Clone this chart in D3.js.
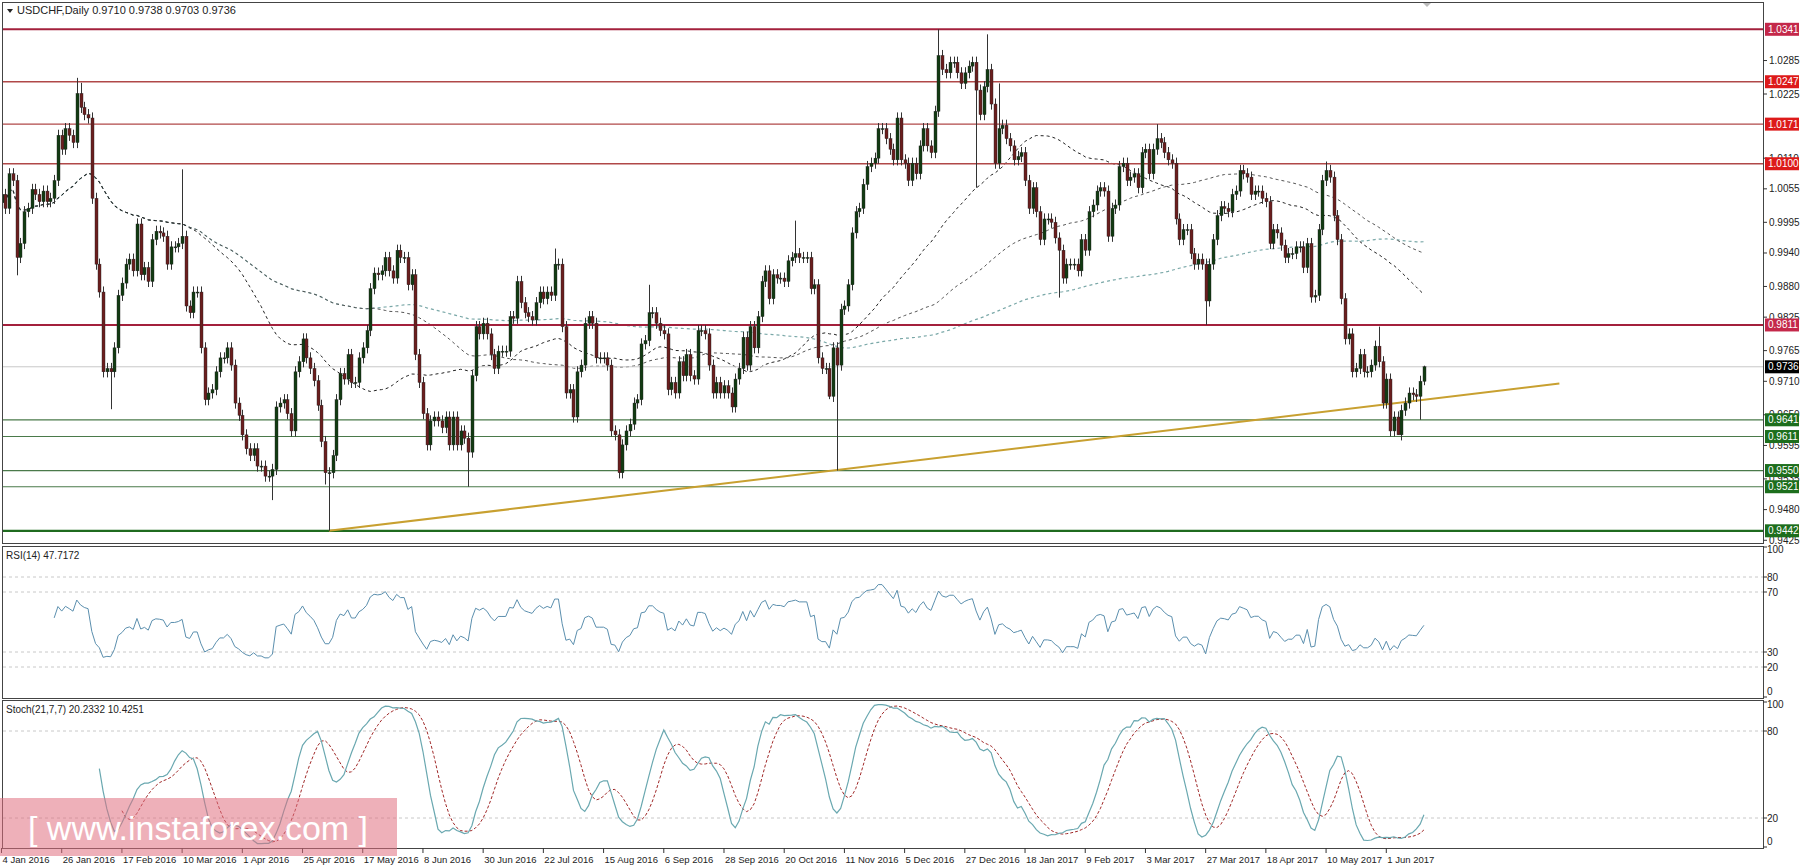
<!DOCTYPE html>
<html>
<head>
<meta charset="utf-8">
<script src="https://cdn.jsdelivr.net/npm/d3@7"></script>
<style>
  body { margin: 0; background: #fff; }
  svg { display: block; font-family: "Liberation Sans", Arial, sans-serif; }
</style>
</head>
<body>
<svg id="chart" width="1800" height="868"></svg>
<script>
// daily closes USDCHF, 4 Jan 2016 .. Jun 2017
const closes = [
1.0045,1.0020,1.0082,1.0070,0.9932,0.9957,1.0014,1.0020,1.0054,1.0045,
1.0032,1.0051,1.0032,1.0038,1.0070,1.0151,1.0126,1.0163,1.0151,1.0138,
1.0226,1.0201,1.0188,1.0182,1.0038,0.9920,0.9870,0.9727,0.9733,0.9727,
0.9770,0.9864,0.9886,0.9920,0.9929,0.9908,0.9992,0.9901,0.9914,0.9889,
0.9964,0.9979,0.9976,0.9970,0.9920,0.9951,0.9951,0.9957,0.9970,0.9845,
0.9833,0.9870,0.9870,0.9770,0.9677,0.9689,0.9695,0.9727,0.9752,0.9752,
0.9770,0.9739,0.9671,0.9649,0.9614,0.9589,0.9577,0.9589,0.9558,0.9558,
0.9540,0.9540,0.9552,0.9664,0.9671,0.9677,0.9652,0.9621,0.9727,0.9745,
0.9786,0.9752,0.9733,0.9711,0.9667,0.9602,0.9546,0.9546,0.9577,0.9677,
0.9724,0.9714,0.9758,0.9708,0.9708,0.9752,0.9770,0.9801,0.9876,0.9904,
0.9901,0.9908,0.9932,0.9908,0.9895,0.9945,0.9932,0.9932,0.9883,0.9901,
0.9758,0.9708,0.9652,0.9596,0.9639,0.9646,0.9639,0.9627,0.9646,0.9596,
0.9646,0.9596,0.9621,0.9608,0.9583,0.9720,0.9808,0.9795,0.9814,0.9795,
0.9758,0.9733,0.9764,0.9764,0.9764,0.9826,0.9823,0.9889,0.9851,0.9833,
0.9826,0.9820,0.9851,0.9870,0.9858,0.9870,0.9864,0.9920,0.9920,0.9808,
0.9689,0.9695,0.9646,0.9727,0.9739,0.9814,0.9826,0.9814,0.9752,0.9752,
0.9752,0.9739,0.9621,0.9614,0.9546,0.9596,0.9621,0.9633,0.9671,0.9677,
0.9777,0.9783,0.9833,0.9833,0.9814,0.9801,0.9795,0.9695,0.9708,0.9689,
0.9745,0.9720,0.9758,0.9720,0.9714,0.9801,0.9801,0.9795,0.9739,0.9689,
0.9708,0.9689,0.9702,0.9689,0.9664,0.9714,0.9733,0.9789,0.9739,0.9808,
0.9770,0.9826,0.9889,0.9908,0.9858,0.9901,0.9895,0.9895,0.9889,0.9926,
0.9932,0.9939,0.9932,0.9932,0.9932,0.9876,0.9883,0.9752,0.9733,0.9733,
0.9683,0.9770,0.9739,0.9839,0.9845,0.9883,0.9976,1.0014,1.0020,1.0063,
1.0095,1.0101,1.0110,1.0163,1.0163,1.0145,1.0126,1.0107,1.0182,1.0107,
1.0101,1.0070,1.0101,1.0082,1.0132,1.0163,1.0132,1.0120,1.0194,1.0294,
1.0269,1.0263,1.0282,1.0282,1.0263,1.0244,1.0263,1.0275,1.0282,1.0232,
1.0188,1.0238,1.0269,1.0207,1.0101,1.0163,1.0169,1.0145,1.0132,1.0107,
1.0113,1.0120,1.0070,1.0020,1.0057,1.0014,0.9964,1.0001,1.0001,0.9995,
0.9967,0.9945,0.9895,0.9920,0.9920,0.9920,0.9908,0.9964,0.9945,1.0014,
1.0026,1.0051,1.0057,1.0051,0.9970,1.0020,1.0026,1.0095,1.0101,1.0070,
1.0076,1.0082,1.0057,1.0120,1.0126,1.0082,1.0126,1.0145,1.0138,1.0120,
1.0107,1.0101,1.0001,0.9964,0.9982,0.9982,0.9939,0.9920,0.9929,0.9920,
0.9854,0.9920,0.9964,1.0007,1.0023,1.0020,1.0014,1.0045,1.0051,1.0088,
1.0082,1.0076,1.0045,1.0051,1.0051,1.0038,1.0032,0.9957,0.9982,0.9976,
0.9954,0.9932,0.9939,0.9939,0.9951,0.9951,0.9914,0.9957,0.9861,0.9864,
0.9982,1.0070,1.0088,1.0076,1.0007,0.9964,0.9858,0.9786,0.9795,0.9727,
0.9733,0.9758,0.9727,0.9727,0.9739,0.9773,0.9745,0.9671,0.9714,0.9621,
0.9646,0.9614,0.9658,0.9671,0.9689,0.9686,0.9683,0.9710,0.9736
];
// wick extremes that stand out on the picture: [bar, high, low]
const spikes = [
[4,null,0.9900],[20,1.0254,null],[21,1.0245,null],[29,null,0.9660],[48,1.0090,null],
[72,null,0.9497],[86,null,0.9525],[87,null,0.9442],[124,null,0.9521],[147,0.9948,null],
[164,null,0.9536],[172,0.9883,null],[211,0.9998,null],[220,null,0.9678],[222,null,0.9550],
[249,1.0341,null],[259,null,1.0057],[262,1.0332,null],[265,1.0244,null],[281,null,0.9860],
[307,1.0171,null],[320,null,0.9811],[352,1.0104,null],[366,0.9808,null],[371,null,0.9614],
[377,null,0.9641],[378,0.9738,0.9703]
];
const firstOpen = 1.0030;
const lastOpen = 0.9710;
const redLevels = [1.0341, 1.0247, 1.0171, 1.0100, 0.9811];
const greenLevels = [0.9641, 0.9611, 0.9550, 0.9521, 0.9442];
const lastPrice = 0.9736;
const priceTicks = [1.0285, 1.0225, 1.0110, 1.0055, 0.9995, 0.9940, 0.9880, 0.9825, 0.9765, 0.9710, 0.9650, 0.9595, 0.9535, 0.9480, 0.9425];
const trend = [[87, 0.9442], [414, 0.9706]];
const dateLabels = ["4 Jan 2016","26 Jan 2016","17 Feb 2016","10 Mar 2016","1 Apr 2016","25 Apr 2016","17 May 2016","8 Jun 2016","30 Jun 2016","22 Jul 2016","15 Aug 2016","6 Sep 2016","28 Sep 2016","20 Oct 2016","11 Nov 2016","5 Dec 2016","27 Dec 2016","18 Jan 2017","9 Feb 2017","3 Mar 2017","27 Mar 2017","18 Apr 2017","10 May 2017","1 Jun 2017"];
const rsiTicks = [100, 80, 70, 30, 20, 0];
const rsiLevels = [80, 70, 30, 20];
const stochTicks = [100, 80, 20, 0];
const stochLevels = [80, 20];

// build OHLC
const bars = closes.map((c, i) => {
  const o = i === 0 ? firstOpen : (i === closes.length - 1 ? lastOpen : closes[i - 1]);
  return { i, o, c, h: Math.max(o, c) + 0.0010, l: Math.min(o, c) - 0.0010 };
});
spikes.forEach(([i, h, l]) => {
  if (h != null) bars[i].h = h;
  if (l != null) bars[i].l = l;
});

const svg = d3.select("#chart");
const right = 1763, left = 2;
const x = d3.scaleLinear().domain([0, 400]).range([1.5, 1.5 + 3.763 * 400]);
const y = d3.scaleLinear().domain([0.9442, 1.0341]).range([530.8, 29.3]);
const yR = d3.scaleLinear().domain([0, 100]).range([697, 547]);
const yS = d3.scaleLinear().domain([0, 100]).range([847, 702]);

// panes frames
const panes = [[2, 543], [546, 698], [700, 848]];
panes.forEach(([t, b]) => {
  svg.append("rect").attr("x", left + 0.5).attr("y", t + 0.5)
    .attr("width", right - left).attr("height", b - t)
    .attr("fill", "#fff").attr("stroke", "#444").attr("stroke-width", 1);
});

svg.append("clipPath").attr("id", "pc").append("rect")
  .attr("x", left + 1).attr("y", 3).attr("width", right - left - 1).attr("height", 539);
const g = svg.append("g").attr("clip-path", "url(#pc)");

// moving averages
function sma(arr, n) {
  return arr.map((_, i) => {
    const s = Math.max(0, i - n + 1);
    return d3.mean(arr.slice(s, i + 1));
  });
}
const maLine = d3.line().x((d, i) => x(i)).y(d => y(d));
g.append("path").datum(sma(closes, 200)).attr("d", maLine).attr("fill", "none")
  .attr("stroke", "#7aa8a8").attr("stroke-width", 1.2).attr("stroke-dasharray", "3,3");
g.append("path").datum(sma(closes, 100)).attr("d", maLine).attr("fill", "none")
  .attr("stroke", "#555").attr("stroke-width", 1).attr("stroke-dasharray", "3,3");
g.append("path").datum(sma(closes, 50)).attr("d", maLine).attr("fill", "none")
  .attr("stroke", "#222").attr("stroke-width", 1).attr("stroke-dasharray", "3,3");

// current price line
g.append("line").attr("x1", left).attr("x2", right).attr("y1", y(lastPrice)).attr("y2", y(lastPrice))
  .attr("stroke", "#c8c8c8").attr("stroke-width", 1);

// horizontal levels
redLevels.forEach(v => {
  const thick = v === 1.0341 || v === 0.9811;
  g.append("line").attr("x1", left).attr("x2", right).attr("y1", y(v)).attr("y2", y(v))
    .attr("stroke", thick ? "#a3203c" : "#b04848").attr("stroke-width", thick ? 2 : 1.3);
});
greenLevels.forEach(v => {
  const thick = v === 0.9442;
  g.append("line").attr("x1", left).attr("x2", right).attr("y1", y(v)).attr("y2", y(v))
    .attr("stroke", thick ? "#1f6b1f" : "#4a7a4a").attr("stroke-width", thick ? 2.2 : 1.2);
});

// trend line
g.append("line").attr("x1", x(trend[0][0])).attr("y1", y(trend[0][1]))
  .attr("x2", x(trend[1][0])).attr("y2", y(trend[1][1]))
  .attr("stroke", "#c8a030").attr("stroke-width", 2);

// candles
const cg = g.append("g");
cg.selectAll("line.w").data(bars).join("line").attr("class", "w")
  .attr("x1", d => Math.round(x(d.i)) + 0.5).attr("x2", d => Math.round(x(d.i)) + 0.5)
  .attr("y1", d => y(d.h)).attr("y2", d => y(d.l)).attr("stroke", "#333").attr("stroke-width", 1);
cg.selectAll("rect.b").data(bars).join("rect").attr("class", "b")
  .attr("x", d => Math.round(x(d.i)) - 1).attr("width", 3)
  .attr("y", d => y(Math.max(d.o, d.c)))
  .attr("height", d => Math.max(1, Math.abs(y(d.o) - y(d.c))))
  .attr("fill", d => d.c >= d.o ? "#123b12" : "#6b1e1e")
  .attr("stroke", "#222").attr("stroke-width", 0.4);

// price axis
const fs = "10px";
const ax = svg.append("g").style("font-size", fs).attr("fill", "#222");
priceTicks.forEach(v => {
  ax.append("line").attr("x1", right).attr("x2", right + 4).attr("y1", y(v)).attr("y2", y(v)).attr("stroke", "#333");
  ax.append("text").attr("x", right + 6).attr("y", y(v) + 3.5).text(v.toFixed(4));
});
function tag(v, fill) {
  ax.append("rect").attr("x", right + 2).attr("y", y(v) - 6.5).attr("width", 34).attr("height", 13).attr("fill", fill);
  ax.append("text").attr("x", right + 5).attr("y", y(v) + 3.5).attr("fill", "#fff").text(v.toFixed(4));
}
redLevels.forEach(v => tag(v, v === 1.0341 || v === 0.9811 ? "#c4284a" : "#dd1a1a"));
greenLevels.forEach(v => tag(v, "#1d6e1d"));
tag(lastPrice, "#000");

// title
svg.append("path").attr("d", "M7,9 L13,9 L10,13 Z").attr("fill", "#222");
svg.append("text").attr("x", 17).attr("y", 14).style("font-size", "11px").attr("fill", "#222")
  .text("USDCHF,Daily  0.9710 0.9738 0.9703 0.9736");
svg.append("path").attr("d", "M1423,3 L1431,3 L1427,7 Z").attr("fill", "#bbb");

// RSI(14)
const rsi = [];
let ag = 0, al = 0;
closes.forEach((c, i) => {
  if (i === 0) { rsi.push(null); return; }
  const ch = c - closes[i - 1];
  const up = Math.max(ch, 0), dn = Math.max(-ch, 0);
  if (i <= 14) {
    ag += up / 14; al += dn / 14;
    rsi.push(i === 14 ? 100 - 100 / (1 + ag / al) : null);
  } else {
    ag = (ag * 13 + up) / 14; al = (al * 13 + dn) / 14;
    rsi.push(100 - 100 / (1 + ag / al));
  }
});

// Stoch(21,7,7)
const ll = bars.map((d, i) => i < 20 ? null : d3.min(bars.slice(i - 20, i + 1), b => b.l));
const hh = bars.map((d, i) => i < 20 ? null : d3.max(bars.slice(i - 20, i + 1), b => b.h));
const main = bars.map((d, i) => {
  if (i < 26) return null;
  let num = 0, den = 0;
  for (let j = i - 6; j <= i; j++) { num += closes[j] - ll[j]; den += hh[j] - ll[j]; }
  return 100 * num / den;
});
const signal = main.map((d, i) => i < 32 ? null : d3.mean(main.slice(i - 6, i + 1)));

function subPane(top, ys, ticks, levels, label) {
  const s = svg.append("g");
  levels.forEach(v => s.append("line").attr("x1", left + 1).attr("x2", right).attr("y1", ys(v)).attr("y2", ys(v))
    .attr("stroke", "#c8c8c8").attr("stroke-dasharray", "3,3"));
  ticks.forEach(v => {
    const ty = v === 100 ? ys(v) + 6 : (v === 0 ? ys(v) - 2 : ys(v) + 3.5);
    s.append("line").attr("x1", right).attr("x2", right + 4).attr("y1", ys(v)).attr("y2", ys(v)).attr("stroke", "#333");
    s.append("text").attr("x", right + 4).attr("y", ty).style("font-size", fs).attr("fill", "#222").text(v);
  });
  s.append("text").attr("x", 6).attr("y", top + 13).style("font-size", "10px").attr("fill", "#222").text(label);
  return s;
}
const rp = subPane(546, yR, rsiTicks, rsiLevels, "RSI(14) 47.7172");
rp.append("path").datum(rsi).attr("fill", "none").attr("stroke", "#5b8fae").attr("stroke-width", 1)
  .attr("d", d3.line().defined(d => d != null).x((d, i) => x(i)).y(d => yR(d)));
const sp = subPane(700, yS, stochTicks, stochLevels, "Stoch(21,7,7) 20.2332 10.4251");
sp.append("path").datum(signal).attr("fill", "none").attr("stroke", "#a02828").attr("stroke-width", 1)
  .attr("stroke-dasharray", "3,2")
  .attr("d", d3.line().defined(d => d != null).x((d, i) => x(i)).y(d => yS(d)));
sp.append("path").datum(main).attr("fill", "none").attr("stroke", "#6aa8b0").attr("stroke-width", 1.2)
  .attr("d", d3.line().defined(d => d != null).x((d, i) => x(i)).y(d => yS(d)));

// date axis
const dg = svg.append("g").style("font-size", "9.5px").attr("fill", "#222");
dateLabels.forEach((t, k) => {
  const xi = x(k * 16);
  dg.append("line").attr("x1", xi).attr("x2", xi).attr("y1", 848).attr("y2", 853).attr("stroke", "#333");
  dg.append("text").attr("x", xi + 1).attr("y", 863).text(t);
});

// watermark
svg.append("rect").attr("x", 0).attr("y", 798).attr("width", 397).attr("height", 58)
  .attr("fill", "#e07080").attr("opacity", 0.55);
svg.append("text").attr("x", 198).attr("y", 840).attr("text-anchor", "middle")
  .style("font-size", "34px")
  .attr("fill", "#fff").text("[ www.instaforex.com ]");
</script>
</body>
</html>
